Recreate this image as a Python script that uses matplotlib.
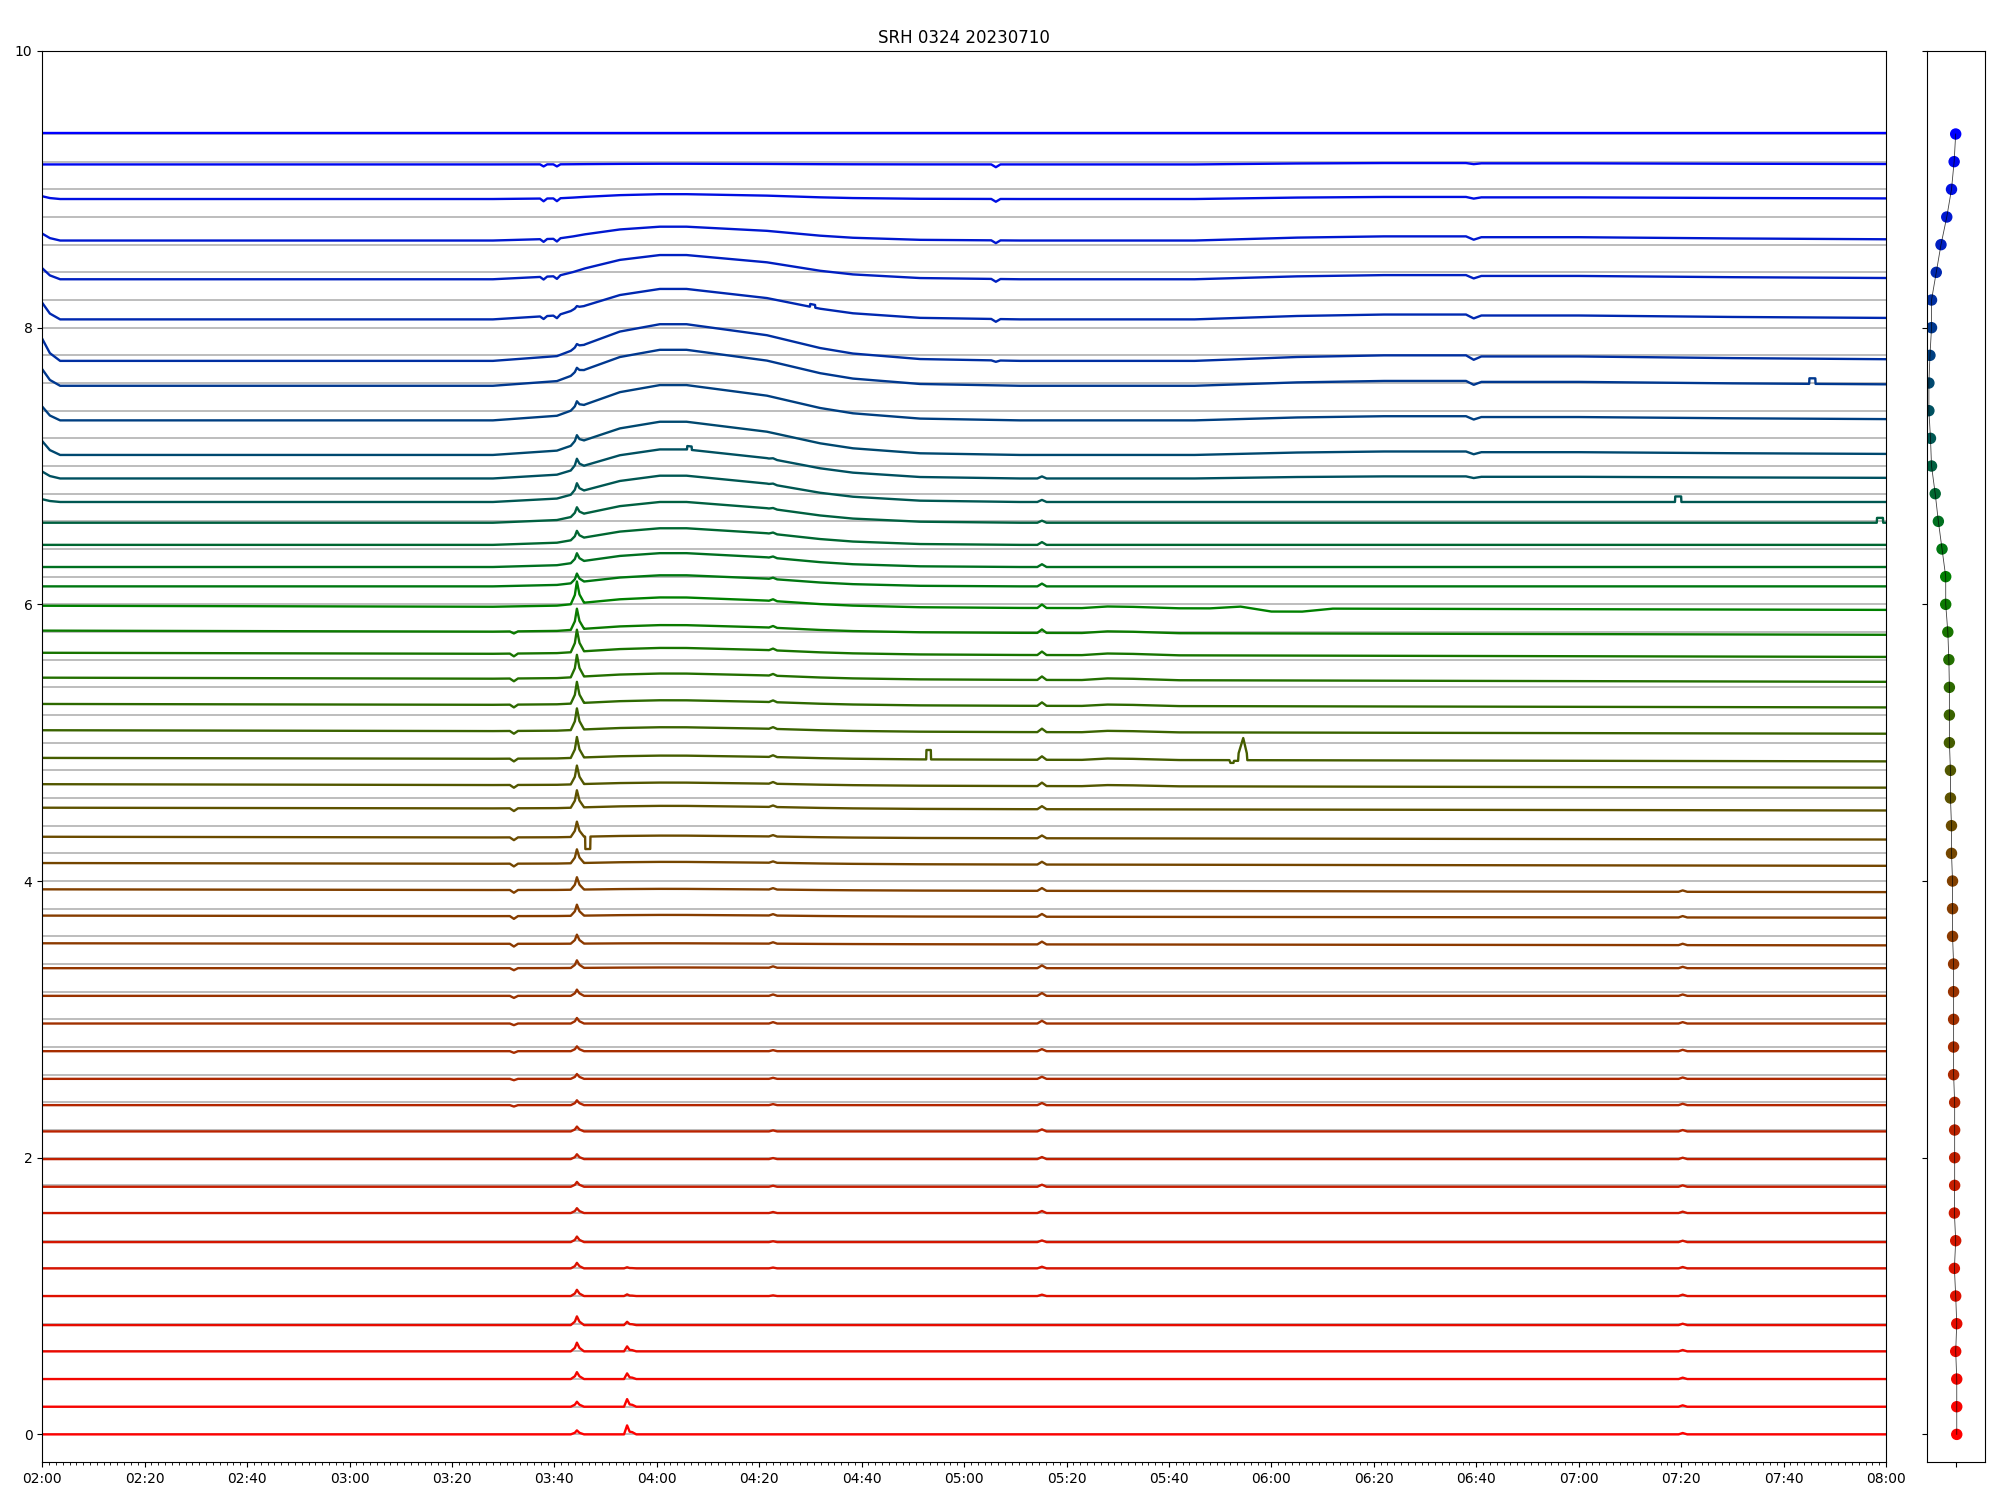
import numpy as np
import matplotlib
matplotlib.use('Agg')
import matplotlib.pyplot as plt
from matplotlib.colors import LinearSegmentedColormap
from matplotlib.ticker import MultipleLocator, FuncFormatter

n_chan = 48
offsets = np.arange(n_chan) * 0.2

# trace level (value - offset) at the start of the record, channel 0 = bottom
base = [0.0, 0.0, 0.0, 0.0, -0.01, 0.0, 0.0, -0.01, 0.0, -0.01,
        -0.01, -0.01, -0.02, -0.03, -0.03, -0.03, -0.03, -0.03, -0.05, -0.05,
        -0.06, -0.07, -0.08, -0.07, -0.10, -0.11, -0.11, -0.12, -0.13, -0.15,
        -0.19, -0.21, -0.27, -0.33, -0.37, -0.41, -0.46, -0.49, -0.52, -0.47,
        -0.42, -0.44, -0.34, -0.25, -0.17, -0.07, -0.02, 0.01]

# right panel: channel levels
levels = [0.02, 0.02, 0.02, 0.0, 0.02, 0.0, -0.025, 0.0, -0.025, -0.02,
          -0.02, -0.02, -0.02, -0.04, -0.04, -0.04, -0.04, -0.04, -0.06, -0.06,
          -0.06, -0.08, -0.08, -0.10, -0.10, -0.12, -0.12, -0.12, -0.13, -0.15,
          -0.19, -0.19, -0.26, -0.33, -0.39, -0.46, -0.48, -0.51, -0.51, -0.49,
          -0.46, -0.46, -0.37, -0.28, -0.17, -0.08, -0.03, 0.0]

# features: key times (minutes after 02:00), unit shape, amplitude per channel
decay_t = [0, 1.5, 3.5]
decay_y = [1, 0.35, 0]
decay_amp = {36: 0.02, 37: 0.05, 38: 0.10, 39: 0.10, 40: 0.12, 41: 0.16,
             42: 0.12, 43: 0.08, 44: 0.05, 45: 0.02}

dips_t = [97.2, 97.9, 98.6, 99.8, 100.5, 101.2]
dips_y = [0, -1, 0, 0, -1, 0]
dips_amp = {42: 0.02, 43: 0.02, 44: 0.02, 45: 0.02, 46: 0.015}

bump_t = [88, 100.5, 103.7, 106, 112.8, 120.6, 125.8, 141.5, 151.9, 158.3, 171.4, 190.9]
bump_y = [0, 0.13, 0.3, 0.45, 0.8, 1.0, 1.0, 0.7, 0.35, 0.2, 0.05, 0]
bump_amp = {46: 0.005, 45: 0.035, 44: 0.10, 43: 0.175, 42: 0.22, 41: 0.265,
            40: 0.26, 39: 0.255, 38: 0.24, 37: 0.21, 36: 0.19, 35: 0.15,
            34: 0.12, 33: 0.10, 32: 0.08, 31: 0.07, 30: 0.05, 29: 0.045,
            28: 0.04, 27: 0.035, 26: 0.03, 25: 0.025, 24: 0.02, 23: 0.02,
            22: 0.015, 21: 0.015, 20: 0.01, 19: 0.01, 18: 0.005, 17: 0.005}

spike_t = [103.2, 104.0, 104.4, 104.9, 105.8]
spike_y = [0, 0.4, 1, 0.4, 0]
spike_amp = {42: 0.02, 41: 0.03, 40: 0.04, 39: 0.05, 38: 0.06, 37: 0.07,
             36: 0.07, 35: 0.06, 34: 0.06, 33: 0.065, 32: 0.065, 31: 0.16,
             30: 0.15, 29: 0.16, 28: 0.16, 27: 0.155, 26: 0.155, 25: 0.15,
             24: 0.135, 23: 0.125, 22: 0.11, 21: 0.10, 20: 0.09, 19: 0.08,
             18: 0.065, 17: 0.055, 16: 0.045, 15: 0.04, 14: 0.035, 13: 0.035,
             12: 0.035, 11: 0.035, 10: 0.035, 9: 0.035, 8: 0.035, 7: 0.04,
             6: 0.04, 5: 0.045, 4: 0.063, 3: 0.063, 2: 0.05, 1: 0.036, 0: 0.029}

spike2_t = [113.6, 114.2, 114.7, 115.2, 116.0]
spike2_y = [0, 1, 0.3, 0.25, 0]
spike2_amp = {0: 0.065, 1: 0.055, 2: 0.041, 3: 0.036, 4: 0.024, 5: 0.012, 6: 0.008}

dip332_t = [91.3, 92.1, 92.9]
dip332_y = [0, -1, 0]
dip332_amp = {12: 0.01, 13: 0.01, 14: 0.012, 15: 0.012, 16: 0.015, 17: 0.015,
              18: 0.02, 19: 0.02, 20: 0.02, 21: 0.02, 22: 0.02, 23: 0.02,
              24: 0.02, 25: 0.02, 26: 0.02, 27: 0.02, 28: 0.02, 29: 0.02, 30: 0.015}

blip_t = [141.9, 142.7, 143.5, 194.3, 195.2, 196.1]
blip_y = [0, 0.5, 0, 0, 1, 0]
blip_amp = {5: 0.01, 6: 0.012, 7: 0.012, 8: 0.015, 9: 0.015, 10: 0.015,
            11: 0.015, 12: 0.015, 13: 0.015, 14: 0.015, 15: 0.02, 16: 0.02,
            17: 0.02, 18: 0.02, 19: 0.02, 20: 0.02, 21: 0.02, 22: 0.02,
            23: 0.022, 24: 0.025, 25: 0.025, 26: 0.025, 27: 0.025, 28: 0.025,
            29: 0.025, 30: 0.025, 31: 0.025, 32: 0.02, 33: 0.02, 34: 0.02,
            35: 0.015, 36: 0.015, 37: 0.015}

dip506_t = [185.3, 186.2, 187.1]
dip506_y = [0, -1, 0]
dip506_amp = {41: 0.01, 42: 0.02, 43: 0.02, 44: 0.02, 45: 0.02, 46: 0.02}

bump530_t = [203, 208, 213, 222]
bump530_y = [0, 1, 0.8, 0]
bump530_amp = {24: 0.008, 25: 0.01, 26: 0.01, 27: 0.01, 28: 0.012, 29: 0.012,
               30: 0.012, 31: 0.012}

wave600_t = [228, 234, 240, 246, 252]
wave600_y = [0, 0.6, -1, -1, 0]
wave600_amp = {31: 0.022}

late_t = [225, 245, 262, 278, 279.5, 281, 300, 330, 360]
late_y = [0, 0.7, 1, 1, 0.2, 0.8, 0.8, 0.5, 0.3]
late_amp = {37: 0.015, 38: 0.025, 39: 0.03, 40: 0.035, 41: 0.04, 42: 0.035,
            43: 0.03, 44: 0.03, 45: 0.015, 46: 0.01}

blip720_t = [319.5, 320.3, 321.2]
blip720_y = [0, 1, 0]
blip720_amp = {i: 0.01 for i in range(0, 21)}

drift_t = [0, 360]
drift_y = [0, -1]
drift_amp = {18: 0.015, 19: 0.015, 20: 0.02, 21: 0.02, 22: 0.02, 23: 0.02,
             24: 0.025, 25: 0.025, 26: 0.025, 27: 0.025, 28: 0.03, 29: 0.03,
             30: 0.03, 31: 0.03}

# rectangular glitches: channel, start, end (minutes), height
pulses = [(42, 149.9, 150.9, 0.02), (37, 125.9, 126.8, 0.025),
          (22, 106.0, 107.0, -0.09), (25, 172.6, 173.5, 0.068),
          (36, 318.8, 320.0, 0.04), (35, 358.2, 359.4, 0.035),
          (40, 345.0, 346.2, 0.04)]

# burst on channel 25 near 05:53
burst_t = [231.8, 232.0, 232.6, 232.7, 233.5, 233.6, 234.5, 235.2, 235.3]
burst_y = [0, -0.02, -0.02, -0.005, -0.005, 0.05, 0.16, 0.05, 0]

features = [(decay_t, decay_y, decay_amp), (dips_t, dips_y, dips_amp),
            (bump_t, bump_y, bump_amp), (spike_t, spike_y, spike_amp),
            (spike2_t, spike2_y, spike2_amp), (dip332_t, dip332_y, dip332_amp),
            (blip_t, blip_y, blip_amp), (dip506_t, dip506_y, dip506_amp),
            (bump530_t, bump530_y, bump530_amp), (wave600_t, wave600_y, wave600_amp),
            (late_t, late_y, late_amp), (blip720_t, blip720_y, blip720_amp),
            (drift_t, drift_y, drift_amp)]
for ch, t0, t1, h in pulses:
    features.append(([t0, t0 + 0.05, t1, t1 + 0.05], [0, 1, 1, 0], {ch: h}))
features.append((burst_t, burst_y, {25: 1.0}))

cmap = LinearSegmentedColormap.from_list(
    'srh', [(0.0, '#ff0000'), (20 / 47, '#804000'), (31 / 47, '#008000'), (1.0, '#0000ff')])
colors = [cmap(i / (n_chan - 1)) for i in range(n_chan)]


def tfmt(s, pos):
    return '%02d:%02d' % (int(s // 3600), int(s % 3600 // 60))


fig = plt.figure(figsize=(20, 15), dpi=100)
ax = fig.add_axes([0.0211, 0.0253, 0.9219, 0.9407])
ax2 = fig.add_axes([0.9634, 0.0253, 0.0289, 0.9407])

ax.hlines(offsets, 7200, 28800, color='#b8b8b8', lw=1.3, zorder=1)

for i in range(n_chan):
    tt = [0, 360]
    for ft, fy, amp in features:
        if amp.get(i, 0) != 0:
            tt += list(ft)
    tt = np.unique(tt)
    y = np.full(len(tt), offsets[i] + base[i])
    for ft, fy, amp in features:
        a = amp.get(i, 0)
        if a != 0:
            y = y + a * np.interp(tt, ft, fy, left=0, right=fy[-1])
    ax.plot(7200 + tt * 60, y, color=colors[i], lw=1.7, zorder=2)

ax.set_xlim(7200, 28800)
ax.set_ylim(-0.2, 10)
ax.xaxis.set_major_locator(MultipleLocator(1200))
ax.xaxis.set_minor_locator(MultipleLocator(80))
ax.xaxis.set_major_formatter(FuncFormatter(tfmt))
ax.set_yticks([0, 2, 4, 6, 8, 10])
ax.set_title('SRH 0324 20230710')

ax2.plot(levels, offsets, color='k', lw=0.6, alpha=0.75, zorder=3)
ax2.scatter(levels, offsets, c=colors, s=52, zorder=2)
ax2.set_xlim(-0.55, 0.55)
ax2.set_ylim(-0.2, 10)
ax2.set_xticks([0])
ax2.set_xticklabels([])
ax2.set_yticks([0, 2, 4, 6, 8, 10])
ax2.set_yticklabels([])

fig.savefig('out.png')
